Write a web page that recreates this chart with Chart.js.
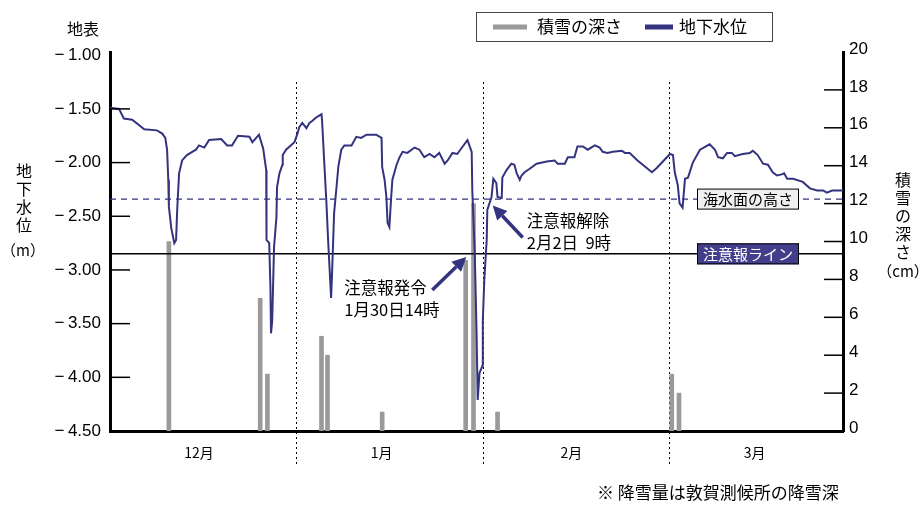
<!DOCTYPE html>
<html lang="ja">
<head>
<meta charset="utf-8">
<script src="https://cdn.jsdelivr.net/npm/chart.js@4.4.0/dist/chart.umd.min.js"></script>
<style>
  html, body { margin: 0; padding: 0; background: #fff; }
  #wrap { width: 922px; height: 505px; position: relative; }
</style>
</head>
<body>
<div id="wrap"><canvas id="myChart"></canvas></div>
<script>
// x = days from Dec 1, every month drawn 31 days wide
const monthNames = ['12月', '1月', '2月', '3月'];
const monthCenters = [14.8, 45.2, 76.8, 107.3];
const monthBounds = [31, 62, 93];

const levelTicks = [-1.0, -1.5, -2.0, -2.5, -3.0, -3.5, -4.0, -4.5];
const seaLevel = -2.34;
const warningLevel = -2.85;

const seriesNames = ['積雪の深さ', '地下水位'];

// snow depth (cm)
const snowDays = [9.8, 25.0, 26.2, 35.2, 36.2, 45.3, 59.2, 60.5, 64.5, 93.5, 94.7];
const snowDepth = [10, 7, 3, 5, 4, 1, 9, 12, 1, 3, 2];

// groundwater level (m)
const levelDays = [0, 1.5, 2.3, 3.7, 5.7, 7.8, 8.7, 9.2, 9.5, 9.7, 9.8, 10.2, 10.7, 11.0, 11.2, 11.5, 12.0, 12.8,
  14.3, 14.8, 15.7, 16.5, 18.5, 19.5, 20.3, 21.3, 23.2, 23.7, 24.8, 25.5, 26.0, 26.05, 26.5, 26.7, 26.8, 27.0,
  27.3, 27.7, 27.8, 28.2, 28.7, 28.75, 29.3, 30.7, 31.2, 31.5, 32.0, 32.7, 33.2, 33.7, 34.3, 35.2, 35.3, 35.7,
  36.0, 36.3, 36.8, 37.0, 37.3, 37.7, 38.0, 38.5, 39.0, 40.2, 41.0, 41.8, 42.7, 44.3, 45.2, 45.3, 45.7, 46.0,
  46.2, 46.5, 46.8, 47.0, 47.7, 48.2, 48.7, 49.5, 50.7, 51.5, 52.3, 53.2, 54.0, 54.8, 55.7, 56.2, 57.0, 57.8,
  58.7, 59.5, 60.2, 60.3, 60.7, 61.0, 61.2, 61.5, 62.0, 62.05, 62.3, 62.7, 62.8, 63.5, 63.8, 64.3, 64.5, 65.2,
  65.3, 66.0, 66.8, 67.3, 67.7, 68.2, 68.5, 69.0, 69.8, 71.0, 72.7, 74.0, 74.5, 75.7, 76.2, 77.3, 77.8, 78.7,
  79.5, 80.7, 81.5, 82.0, 82.8, 83.7, 85.2, 85.7, 86.5, 87.8, 90.2, 91.0, 93.2, 93.7, 94.0, 94.5, 94.8, 95.3,
  95.7, 96.2, 97.0, 98.2, 99.8, 100.7, 101.2, 102.0, 102.7, 103.5, 104.0, 105.3, 106.5, 107.0, 107.8, 108.7,
  109.5, 110.3, 111.0, 111.8, 112.2, 112.7, 113.7, 115.3, 116.5, 117.7, 118.7, 119.3, 120.2, 122];
const levelValues = [-1.49, -1.50, -1.59, -1.60, -1.69, -1.70, -1.73, -1.77, -1.88, -2.16, -2.41, -2.61, -2.75, -2.72, -2.42, -2.10, -1.98, -1.93,
  -1.88, -1.84, -1.86, -1.79, -1.78, -1.84, -1.84, -1.75, -1.76, -1.81, -1.74, -1.87, -2.07, -2.72, -2.75, -3.16, -3.59, -3.47,
  -2.79, -2.51, -2.23, -2.10, -2.02, -1.93, -1.88, -1.81, -1.73, -1.67, -1.63, -1.68, -1.63, -1.61, -1.58, -1.55, -1.61, -2.04,
  -2.35, -2.72, -3.26, -2.97, -2.47, -2.23, -2.04, -1.88, -1.84, -1.84, -1.76, -1.77, -1.74, -1.74, -1.77, -2.04, -2.16, -2.32,
  -2.56, -2.60, -2.32, -2.16, -2.02, -1.95, -1.90, -1.91, -1.86, -1.88, -1.95, -1.92, -1.95, -1.91, -2.01, -1.98, -1.91, -1.92,
  -1.85, -1.79, -1.90, -2.26, -2.82, -3.56, -4.21, -3.96, -3.89, -3.47, -3.09, -2.72, -2.44, -2.32, -2.15, -2.19, -2.32, -2.33,
  -2.14, -2.07, -2.01, -2.02, -2.10, -2.16, -2.12, -2.09, -2.06, -2.01, -1.99, -1.98, -2.01, -2.01, -1.95, -1.95, -1.85, -1.85,
  -1.88, -1.84, -1.86, -1.90, -1.91, -1.90, -1.89, -1.91, -1.91, -1.98, -2.09, -2.05, -1.92, -1.93, -2.09, -2.21, -2.38, -2.42,
  -2.15, -2.14, -2.00, -1.88, -1.83, -1.88, -1.95, -1.96, -1.91, -1.91, -1.94, -1.92, -1.91, -1.89, -1.93, -2.01,
  -2.02, -2.09, -2.12, -2.11, -2.10, -2.15, -2.15, -2.18, -2.24, -2.26, -2.26, -2.28, -2.26, -2.26];

// alert notes: point on the chart + two text lines
const notes = [
  { x: 59.3, y: -2.88, lines: ['注意報発令', '1月30日14時'] },
  { x: 63.7, y: -2.40, lines: ['注意報解除', '2月2日  9時'] }
];

const NAVY = '#33337f';
const GRAY = '#9a9a9a';
const JP = "'Noto Sans CJK JP', sans-serif";
const NUM = "'Liberation Sans', Arial, sans-serif";

document.addEventListener('DOMContentLoaded', () => {
  const ctx = document.getElementById('myChart');

  function text(c, s, x, y, size, align, color, font) {
    c.font = size + 'px ' + (font || JP);
    c.textAlign = align || 'left';
    c.textBaseline = 'middle';
    c.fillStyle = color || '#000';
    c.fillText(s, x, y);
  }

  function arrow(c, x1, y1, x2, y2) {
    const a = Math.atan2(y2 - y1, x2 - x1);
    const hl = 14, hw = 7;
    const bx = x2 - hl * Math.cos(a), by = y2 - hl * Math.sin(a);
    c.strokeStyle = NAVY;
    c.lineWidth = 3.5;
    c.beginPath();
    c.moveTo(x1, y1);
    c.lineTo(bx, by);
    c.stroke();
    c.fillStyle = NAVY;
    c.beginPath();
    c.moveTo(x2, y2);
    c.lineTo(bx + hw * Math.sin(a), by - hw * Math.cos(a));
    c.lineTo(bx - hw * Math.sin(a), by + hw * Math.cos(a));
    c.closePath();
    c.fill();
  }

  const decor = {
    id: 'decor',
    beforeDatasetsDraw(chart) {
      const c = chart.ctx, x = chart.scales.x;
      c.save();
      c.strokeStyle = '#000';
      c.lineWidth = 1;
      c.setLineDash([2, 3]);
      monthBounds.forEach(b => {
        const px = Math.round(x.getPixelForValue(b)) + 0.5;
        c.beginPath();
        c.moveTo(px, 82);
        c.lineTo(px, 467);
        c.stroke();
      });
      c.restore();
    },
    afterDraw(chart) {
      const c = chart.ctx, a = chart.chartArea;
      const yl = chart.scales.yLevel, ys = chart.scales.ySnow, x = chart.scales.x;
      c.save();

      // inward tick marks
      c.strokeStyle = '#000';
      c.lineWidth = 1.5;
      yl.ticks.forEach(t => {
        if (t.value <= -4.5 || t.value >= -1.0) return;
        const py = yl.getPixelForValue(t.value);
        c.beginPath(); c.moveTo(a.left, py); c.lineTo(a.left + 20, py); c.stroke();
      });
      ys.ticks.forEach(t => {
        if (t.value <= 0 || t.value >= 20) return;
        const py = ys.getPixelForValue(t.value);
        c.beginPath(); c.moveTo(a.right - 19, py); c.lineTo(a.right, py); c.stroke();
      });

      // labels on the reference lines
      const seaY = yl.getPixelForValue(seaLevel);
      c.fillStyle = '#f0f0f0';
      c.fillRect(697, seaY - 10.5, 102, 21);
      c.strokeStyle = '#000';
      c.lineWidth = 1;
      c.strokeRect(697.5, seaY - 10, 101, 20);
      text(c, '海水面の高さ', 748, seaY, 15, 'center');

      const warnY = yl.getPixelForValue(warningLevel);
      c.fillStyle = '#423e8b';
      c.fillRect(697, warnY - 10.5, 102, 21);
      c.strokeRect(697.5, warnY - 10, 101, 20);
      text(c, '注意報ライン', 748, warnY, 15, 'center', '#fff');

      // alert notes with arrows
      const n1 = notes[0], n2 = notes[1];
      let px = x.getPixelForValue(n1.x), py = yl.getPixelForValue(n1.y);
      arrow(c, px - 34, py + 33, px, py);
      text(c, n1.lines[0], px - 122, py + 31, 16.5);
      text(c, n1.lines[1], px - 122, py + 53, 16.5);
      px = x.getPixelForValue(n2.x); py = yl.getPixelForValue(n2.y);
      arrow(c, px + 30, py + 32, px, py);
      text(c, n2.lines[0], px + 34, py + 15, 16.5);
      text(c, n2.lines[1], px + 34, py + 37, 16.5);

      // axis titles
      text(c, '地表', 83, 29, 16, 'center');
      ['地', '下', '水', '位'].forEach((ch, i) => text(c, ch, 24, 171 + i * 18, 16, 'center'));
      text(c, '（m）', 23, 250, 15, 'center');
      ['積', '雪', 'の', '深', 'さ'].forEach((ch, i) => text(c, ch, 903, 180 + i * 18, 16, 'center'));
      text(c, '（cm）', 903, 271, 15, 'center');

      // legend
      c.strokeStyle = '#444';
      c.lineWidth = 1;
      c.strokeRect(476.5, 12.5, 296, 29);
      c.lineWidth = 5;
      c.strokeStyle = GRAY;
      c.beginPath(); c.moveTo(493, 27); c.lineTo(527, 27); c.stroke();
      text(c, seriesNames[0], 537, 27, 17);
      c.strokeStyle = NAVY;
      c.beginPath(); c.moveTo(645, 27); c.lineTo(673, 27); c.stroke();
      text(c, seriesNames[1], 679, 27, 17);

      // footnote
      text(c, '※ 降雪量は敦賀測候所の降雪深', 597, 493, 17);
      c.restore();
    }
  };

  new Chart(ctx, {
    type: 'bar',
    data: {
      datasets: [
        {
          type: 'line',
          label: seriesNames[1],
          data: levelDays.map((d, i) => ({ x: d, y: levelValues[i] })),
          yAxisID: 'yLevel',
          borderColor: NAVY,
          borderWidth: 2,
          pointRadius: 0,
          tension: 0,
          order: 0
        },
        {
          type: 'line',
          label: '海水面の高さ',
          data: [{ x: 0, y: seaLevel }, { x: 122, y: seaLevel }],
          yAxisID: 'yLevel',
          borderColor: NAVY,
          borderWidth: 1.3,
          borderDash: [6, 5],
          pointRadius: 0,
          order: 1
        },
        {
          type: 'line',
          label: '注意報ライン',
          data: [{ x: 0, y: warningLevel }, { x: 122, y: warningLevel }],
          yAxisID: 'yLevel',
          borderColor: '#000',
          borderWidth: 1.5,
          pointRadius: 0,
          order: 1
        },
        {
          label: seriesNames[0],
          data: snowDays.map((d, i) => ({ x: d, y: snowDepth[i] })),
          yAxisID: 'ySnow',
          backgroundColor: GRAY,
          barThickness: 4,
          order: 3
        }
      ]
    },
    options: {
      responsive: true,
      maintainAspectRatio: false,
      animation: false,
      devicePixelRatio: 1,
      layout: { padding: { top: 52, left: 0, right: 0, bottom: 0 } },
      plugins: { legend: { display: false }, tooltip: { enabled: false }, title: { display: false } },
      scales: {
        x: {
          type: 'linear',
          min: 0,
          max: 122,
          offset: false,
          grid: { display: false, drawTicks: false },
          border: { display: true, color: '#000', width: 3 },
          afterBuildTicks: s => { s.ticks = monthCenters.map(v => ({ value: v })); },
          afterFit: s => { s.height = 74; },
          ticks: {
            autoSkip: false,
            maxRotation: 0,
            padding: 13,
            color: '#000',
            font: { family: JP, size: 14 },
            callback: (v, i) => monthNames[i]
          }
        },
        yLevel: {
          type: 'linear',
          position: 'left',
          min: -4.5,
          max: -0.97,
          grid: { display: false, drawTicks: false },
          border: { display: true, color: '#000', width: 3 },
          afterBuildTicks: s => { s.ticks = levelTicks.map(v => ({ value: v })); },
          afterFit: s => { s.width = 110; },
          ticks: {
            padding: 9,
            color: '#000',
            font: { family: NUM, size: 17 },
            callback: v => '\u2212\u2009' + Math.abs(v).toFixed(2)
          }
        },
        ySnow: {
          type: 'linear',
          position: 'right',
          min: 0,
          max: 20,
          grid: { display: false, drawTicks: false },
          border: { display: true, color: '#000', width: 3 },
          afterFit: s => { s.width = 79; },
          ticks: {
            stepSize: 2,
            padding: 6,
            labelOffset: -3,
            color: '#000',
            font: { family: NUM, size: 17 }
          }
        }
      }
    },
    plugins: [decor]
  });
});
</script>
</body>
</html>
